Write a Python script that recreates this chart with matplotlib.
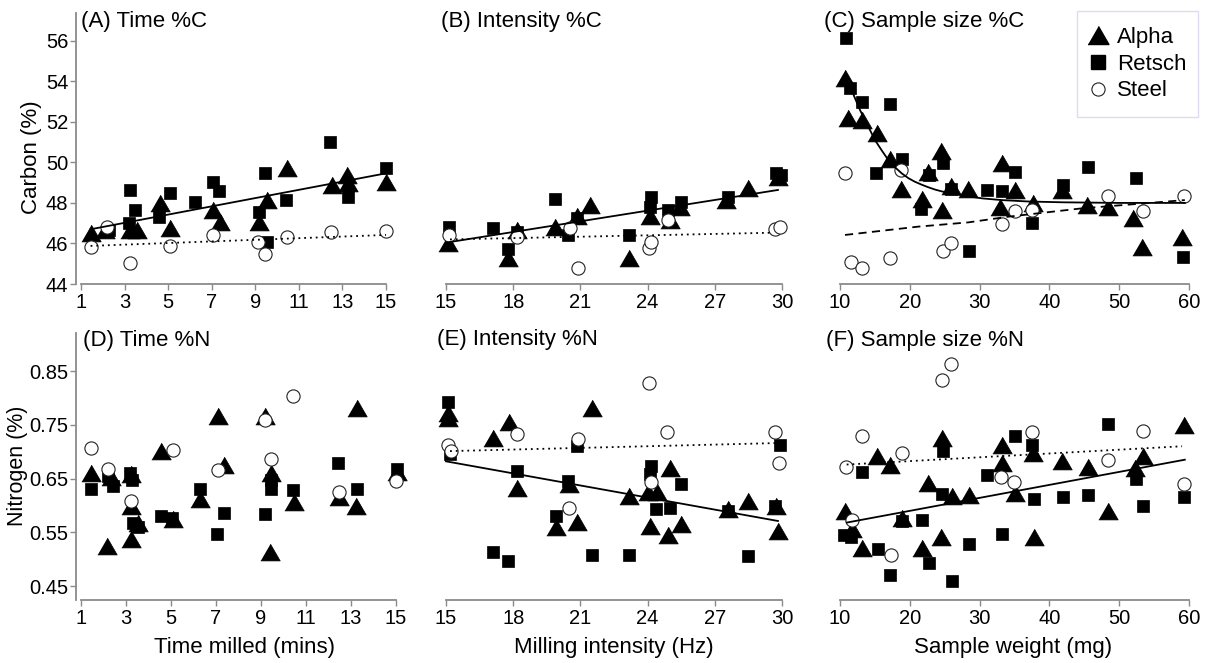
import matplotlib
matplotlib.use("Agg")
import matplotlib.pyplot as plt
from matplotlib.lines import Line2D
from matplotlib.patches import Rectangle

plt.rcParams['font.family'] = ['Liberation Sans', 'DejaVu Sans']

# ---- data ----
# top row: carbon %
A_alpha = [(1.44, 46.5), (2.1, 46.66), (3.25, 46.66), (3.55, 46.66), (4.63, 47.98), (5.08, 46.75),
           (7.07, 47.65), (7.38, 47.08), (9.19, 47.08), (9.52, 48.14), (10.44, 49.71), (12.5, 48.88),
           (13.19, 49.38), (13.27, 48.97), (15.0, 49.05)]
A_retsch = [(2.3, 46.66), (3.2, 47.0), (3.25, 48.64), (3.48, 47.65), (4.6, 47.32), (5.08, 48.51),
            (6.23, 48.06), (7.07, 49.05), (7.35, 48.6), (9.19, 47.57), (9.45, 49.49), (9.52, 46.09),
            (10.41, 48.14), (12.43, 51.02), (13.27, 48.31), (15.0, 49.71)]
A_steel = [(1.44, 45.84), (2.21, 46.83), (3.25, 45.02), (5.08, 45.88), (7.07, 46.42), (9.14, 46.09),
           (9.45, 45.48), (10.44, 46.34), (12.46, 46.58), (15.0, 46.63)]

B_alpha = [(15.1, 46.04), (17.78, 45.27), (18.18, 46.66), (19.86, 46.83), (20.83, 47.36), (21.42, 47.9),
           (23.18, 45.27), (24.1, 47.36), (25.0, 47.16), (25.44, 47.82), (27.52, 48.14), (28.48, 48.72),
           (29.82, 49.3)]
B_retsch = [(15.15, 46.83), (17.08, 46.75), (17.78, 45.71), (18.18, 46.58), (19.86, 48.18), (20.46, 46.42),
            (20.83, 47.24), (23.18, 46.42), (24.17, 48.31), (24.1, 47.82), (24.92, 47.65), (25.51, 48.06),
            (27.59, 48.31), (29.75, 49.46), (29.97, 49.38)]
B_steel = [(15.15, 46.42), (18.18, 46.3), (20.53, 46.75), (20.9, 44.77), (24.07, 45.76), (24.17, 46.09),
           (24.92, 47.16), (29.67, 46.7), (29.9, 46.83)]

C_alpha = [(10.72, 54.15), (11.19, 52.17), (13.1, 52.09), (15.25, 51.43), (17.16, 50.15), (18.74, 48.67),
           (21.8, 48.2), (22.65, 49.54), (24.5, 50.55), (24.6, 47.63), (25.9, 48.85), (28.39, 48.68),
           (33.16, 49.95), (32.95, 47.8), (35.07, 48.62), (37.7, 47.98), (41.76, 48.64), (45.34, 47.9),
           (48.44, 47.78), (52.03, 47.24), (53.22, 45.84), (58.95, 46.3)]
C_retsch = [(10.81, 56.12), (11.5, 53.65), (13.1, 53.0), (17.16, 52.88), (15.1, 49.48), (18.9, 50.17),
            (21.65, 47.7), (22.8, 49.38), (24.8, 49.95), (25.9, 48.7), (31.01, 48.64), (33.16, 48.58),
            (35.07, 49.54), (37.55, 47.03), (42.0, 48.88), (45.48, 49.79), (52.41, 49.21), (28.48, 45.64),
            (59.19, 45.32)]
C_steel = [(10.75, 49.46), (11.58, 45.1), (13.1, 44.77), (17.16, 45.27), (18.8, 49.6), (24.7, 45.62),
           (25.95, 46.04), (33.16, 46.98), (35.07, 47.6), (37.5, 47.66), (48.35, 48.34), (53.46, 47.62),
           (59.33, 48.34)]

# bottom row: nitrogen %
D_alpha = [(1.45, 0.661), (2.14, 0.524), (2.34, 0.652), (3.23, 0.658), (3.23, 0.599), (3.52, 0.568),
           (3.23, 0.538), (4.56, 0.701), (5.08, 0.574), (6.27, 0.611), (7.09, 0.767), (7.34, 0.676),
           (9.17, 0.766), (9.46, 0.661), (9.39, 0.513), (10.46, 0.607), (12.48, 0.615), (13.22, 0.599),
           (13.28, 0.781), (15.03, 0.662)]
D_retsch = [(1.45, 0.63), (2.19, 0.655), (2.41, 0.637), (3.18, 0.66), (3.27, 0.648), (3.3, 0.568),
            (3.52, 0.559), (4.56, 0.581), (5.05, 0.576), (6.27, 0.63), (7.34, 0.586), (7.06, 0.547),
            (9.17, 0.584), (9.46, 0.63), (9.46, 0.648), (10.43, 0.629), (12.43, 0.678), (13.25, 0.631),
            (15.03, 0.667)]
D_steel = [(1.45, 0.707), (2.19, 0.667), (3.23, 0.608), (5.11, 0.703), (7.09, 0.666), (9.17, 0.759),
           (9.46, 0.687), (10.43, 0.804), (12.48, 0.624), (15.0, 0.645)]

E_alpha = [(15.1, 0.772), (15.1, 0.762), (17.82, 0.756), (17.08, 0.725), (18.18, 0.633), (19.91, 0.559),
           (20.5, 0.639), (20.86, 0.570), (21.5, 0.781), (23.18, 0.618), (24.1, 0.562), (24.02, 0.624),
           (24.4, 0.624), (24.92, 0.544), (24.99, 0.670), (25.51, 0.565), (27.59, 0.593), (28.48, 0.608),
           (29.75, 0.599), (29.82, 0.553)]
E_retsch = [(15.1, 0.793), (15.18, 0.695), (18.18, 0.664), (19.91, 0.581), (20.46, 0.645), (20.83, 0.71),
            (17.08, 0.513), (17.78, 0.497), (21.5, 0.507), (23.18, 0.508), (24.17, 0.673), (24.1, 0.658),
            (24.39, 0.593), (24.99, 0.596), (25.47, 0.639), (27.59, 0.590), (28.48, 0.505), (29.67, 0.599),
            (29.9, 0.713)]
E_steel = [(15.1, 0.713), (15.21, 0.701), (18.18, 0.732), (20.9, 0.724), (20.5, 0.596), (24.07, 0.828),
           (24.17, 0.644), (24.87, 0.736), (29.67, 0.736), (29.87, 0.678)]

F_alpha = [(10.72, 0.59), (11.67, 0.556), (13.1, 0.52), (15.25, 0.692), (17.16, 0.676), (18.93, 0.576),
           (22.65, 0.642), (21.7, 0.52), (24.57, 0.725), (24.47, 0.541), (26.0, 0.618), (28.48, 0.619),
           (33.16, 0.713), (33.26, 0.679), (35.07, 0.623), (37.7, 0.698), (37.84, 0.541), (41.85, 0.682),
           (45.48, 0.672), (48.44, 0.59), (52.26, 0.67), (53.46, 0.692), (59.33, 0.75)]
F_retsch = [(10.62, 0.545), (11.58, 0.541), (13.1, 0.662), (15.4, 0.518), (17.16, 0.471), (18.83, 0.571),
            (21.8, 0.573), (22.75, 0.493), (24.8, 0.701), (24.66, 0.621), (26.0, 0.459), (28.48, 0.528),
            (31.01, 0.656), (33.26, 0.547), (35.07, 0.730), (37.55, 0.713), (37.84, 0.611), (42.0, 0.616),
            (45.48, 0.619), (48.44, 0.752), (52.36, 0.650), (53.46, 0.599), (59.33, 0.616)]
F_steel = [(10.81, 0.672), (11.67, 0.573), (13.1, 0.730), (17.3, 0.508), (18.83, 0.697), (24.66, 0.833),
           (25.9, 0.863), (33.07, 0.652), (34.98, 0.644), (37.55, 0.736), (48.44, 0.685), (53.46, 0.738),
           (59.33, 0.639)]

# fitted lines
A_fit_solid = ([1.44, 15.0], [46.7, 49.46])
A_fit_dot = ([1.44, 15.0], [45.88, 46.42])
B_fit_solid = ([15.0, 29.82], [46.04, 48.64])
B_fit_dot = ([15.18, 29.6], [46.2, 46.53])
C_fit_solid = ([11.0, 11.8, 12.87, 14.0, 15.01, 16.0, 16.92, 17.9, 18.84, 19.8, 20.7, 21.7, 22.6, 23.6,
                24.57, 26.5, 28.38, 30.5, 33.17, 37.0, 42.0, 50.0, 59.4],
               [54.3, 53.45, 52.58, 51.8, 51.1, 50.58, 50.12, 49.75, 49.46, 49.22, 49.05, 48.9, 48.78, 48.66,
                48.57, 48.43, 48.32, 48.22, 48.14, 48.07, 48.03, 48.0, 48.0])
C_fit_dash = ([10.72, 21.2, 28.38, 34.1, 44.6, 59.4], [46.42, 46.83, 47.04, 47.32, 47.73, 48.14])
E_fit_solid = ([15.0, 29.82], [0.682, 0.571])
E_fit_dot = ([15.18, 29.82], [0.701, 0.716])
F_fit_solid = ([10.96, 59.4], [0.568, 0.685])
F_fit_dot = ([10.96, 59.0], [0.676, 0.710])

ticks_time = [1, 3, 5, 7, 9, 11, 13, 15]
ticks_int = [15, 18, 21, 24, 27, 30]
ticks_size = [10, 20, 30, 40, 50, 60]
ticks_c = [44, 46, 48, 50, 52, 54, 56]
ticks_n = [0.45, 0.55, 0.65, 0.75, 0.85]

W, H = 1210, 663
fig = plt.figure(figsize=(W / 100, H / 100), dpi=100)

TRI = [(-1, -0.866), (1, -0.866), (0, 0.866)]
GRAY = '#8a8a8a'
TICK_FS = 14.5
TEXT_FS = 16


def panel(left, right, top, bottom, xlim, ylim):
    ax = fig.add_axes([left / W, 1 - bottom / H, (right - left) / W, (bottom - top) / H])
    ax.set_xlim(*xlim)
    ax.set_ylim(*ylim)
    ax.patch.set_alpha(0)
    return ax


def draw(ax, alpha, retsch, steel, xticks, yticks, first_col):
    ax.plot([p[0] for p in alpha], [p[1] for p in alpha], linestyle='none', marker=TRI,
            ms=14, color='black', mec='black', mew=0.5, clip_on=False)
    ax.plot([p[0] for p in retsch], [p[1] for p in retsch], linestyle='none', marker='s',
            ms=9.3, color='black', mec='black', mew=0.5, clip_on=False)
    ax.plot([p[0] for p in steel], [p[1] for p in steel], linestyle='none', marker='o',
            ms=9.5, mfc='white', mec='#222222', mew=0.8, clip_on=False)
    for s in ['top', 'right']:
        ax.spines[s].set_visible(False)
    ax.spines['bottom'].set_color(GRAY)
    ax.spines['bottom'].set_linewidth(1.3)
    ax.spines['bottom'].set_bounds(xticks[0], xticks[-1])
    ax.set_xticks(xticks)
    ax.set_xticklabels([str(t) for t in xticks])
    ax.tick_params(axis='x', direction='out', length=4, width=1, color=GRAY, labelsize=TICK_FS, pad=2.5)
    if first_col:
        ax.spines['left'].set_color(GRAY)
        ax.spines['left'].set_linewidth(1.3)
        ax.set_yticks(yticks)
        ax.set_yticklabels([f'{t:g}' for t in yticks])
        ax.tick_params(axis='y', direction='out', length=4, width=1, color=GRAY, labelsize=TICK_FS, pad=1.5)
    else:
        ax.spines['left'].set_visible(False)
        ax.tick_params(axis='y', left=False, labelleft=False)


def fit(ax, line, style):
    ax.plot(line[0], line[1], color='black', lw=1.3, linestyle=style)


DOT = (0, (1, 2.2))
DASH = (0, (4.5, 3))
top_ylim = (44, 57.37)
bot_ylim = (0.424, 0.9207)

axA = panel(76, 400, 13, 284, (0.7705, 15.643), top_ylim)
draw(axA, A_alpha, A_retsch, A_steel, ticks_time, ticks_c, True)
fit(axA, A_fit_solid, '-')
fit(axA, A_fit_dot, DOT)

axB = panel(430, 800, 13, 284, (14.286, 30.804), top_ylim)
draw(axB, B_alpha, B_retsch, B_steel, ticks_int, ticks_c, False)
fit(axB, B_fit_solid, '-')
fit(axB, B_fit_dot, DOT)

axC = panel(820, 1205, 13, 284, (7.135, 62.29), top_ylim)
draw(axC, C_alpha, C_retsch, C_steel, ticks_size, ticks_c, False)
fit(axC, C_fit_solid, '-')
fit(axC, C_fit_dash, DASH)

axD = panel(76, 405, 333, 600, (0.778, 15.4), bot_ylim)
draw(axD, D_alpha, D_retsch, D_steel, ticks_time, ticks_n, True)

axE = panel(430, 800, 333, 600, (14.286, 30.804), bot_ylim)
draw(axE, E_alpha, E_retsch, E_steel, ticks_int, ticks_n, False)
fit(axE, E_fit_solid, '-')
fit(axE, E_fit_dot, DOT)

axF = panel(820, 1205, 333, 600, (7.135, 62.29), bot_ylim)
draw(axF, F_alpha, F_retsch, F_steel, ticks_size, ticks_n, False)
fit(axF, F_fit_solid, '-')
fit(axF, F_fit_dot, DOT)

# panel titles
titles = [('(A) Time %C', 81, 22), ('(B) Intensity %C', 441, 22), ('(C) Sample size %C', 824, 22),
          ('(D) Time %N', 83, 341), ('(E) Intensity %N', 437, 340), ('(F) Sample size %N', 826, 341)]
for txt, x, y in titles:
    fig.text(x / W, 1 - y / H, txt, fontsize=TEXT_FS, ha='left', va='center')

# axis labels
fig.text(31 / W, 1 - 157 / H, 'Carbon (%)', rotation=90, fontsize=TEXT_FS, ha='center', va='center')
fig.text(18 / W, 1 - 466 / H, 'Nitrogen (%)', rotation=90, fontsize=15.5, ha='center', va='center')
fig.text(244 / W, 1 - 647 / H, 'Time milled (mins)', fontsize=TEXT_FS, ha='center', va='center')
fig.text(614 / W, 1 - 647 / H, 'Milling intensity (Hz)', fontsize=TEXT_FS, ha='center', va='center')
fig.text(1013 / W, 1 - 647 / H, 'Sample weight (mg)', fontsize=TEXT_FS, ha='center', va='center')

# legend (frame drawn separately to match the box proportions)
handles = [Line2D([], [], linestyle='none', marker=TRI, ms=15, color='black'),
           Line2D([], [], linestyle='none', marker='s', ms=10, color='black'),
           Line2D([], [], linestyle='none', marker='o', ms=9.5, mfc='white', mec='#222222', mew=0.8)]
fig.legend(handles, ['Alpha', 'Retsch', 'Steel'], loc='center left',
           bbox_to_anchor=(1087 / W, 1 - 64 / H), fontsize=TEXT_FS, frameon=False,
           borderpad=0, handlelength=1.0, handletextpad=0.36, labelspacing=0.26, borderaxespad=0)
fig.add_artist(Rectangle((1077 / W, 1 - 117 / H), 121 / W, 106 / H, transform=fig.transFigure,
                         fill=False, edgecolor='#dcdcf4', lw=1.0))

fig.savefig('out.png', dpi=100)
